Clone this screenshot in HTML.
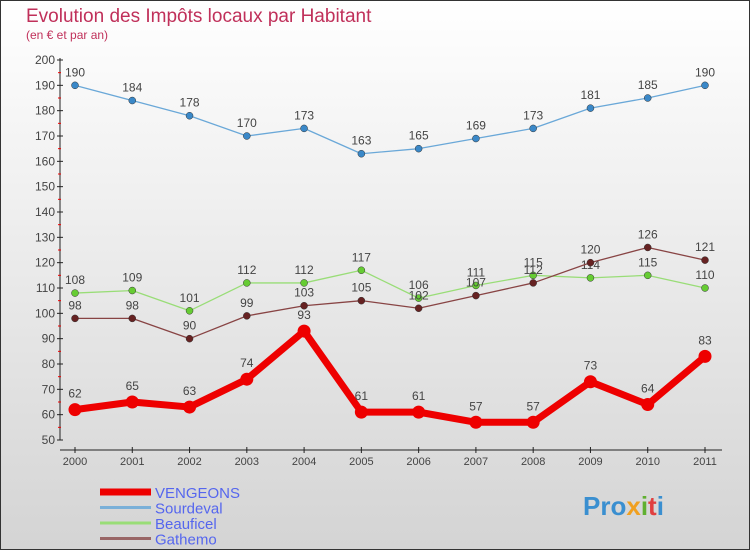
<!DOCTYPE html>
<html><head><meta charset="utf-8"><style>
html,body{margin:0;padding:0}
body{width:750px;height:550px;overflow:hidden;font-family:"Liberation Sans",sans-serif}
</style></head><body>
<svg id="c" width="750" height="550" xmlns="http://www.w3.org/2000/svg">
<defs><linearGradient id="bg" x1="0" y1="0" x2="0" y2="1"><stop offset="0" stop-color="#ffffff"/><stop offset="1" stop-color="#d4d4d4"/></linearGradient></defs>
<rect x="0.5" y="0.5" width="749" height="549" fill="url(#bg)" stroke="#333"/>
<text x="26" y="22" font-size="19" fill="#c0305a">Evolution des Impôts locaux par Habitant</text>
<text x="26" y="39" font-size="12" fill="#c0305a">(en € et par an)</text>
<g id="axes"></g><g id="series"></g><g id="legend"></g>
<text x="583" y="515" font-size="26" font-weight="bold" fill="#3a8fd0">Pro<tspan fill="#f0a020">x</tspan><tspan fill="#60b030">i</tspan><tspan fill="#e04040">t</tspan>i</text>
</svg>
<script>
const years=[2000,2001,2002,2003,2004,2005,2006,2007,2008,2009,2010,2011];
const vengeons=[62,65,63,74,93,61,61,57,57,73,64,83];
const sourdeval=[190,184,178,170,173,163,165,169,173,181,185,190];
const beauficel=[108,109,101,112,112,117,106,111,115,114,115,110];
const gathemo=[98,98,90,99,103,105,102,107,112,120,126,121];
const yTicks=[50,60,70,80,90,100,110,120,130,140,150,160,170,180,190,200];
const NS="http://www.w3.org/2000/svg";
const xS=i=>75+i*(630/11);
const yS=v=>440-(v-50)*(380/150);
function mk(tag,attrs,parent){const e=document.createElementNS(NS,tag);for(const k in attrs)e.setAttribute(k,attrs[k]);parent.appendChild(e);return e;}
const ax=document.getElementById('axes');
const yl=mk('line',{x1:60,y1:58,x2:60,y2:440,stroke:'#222'},ax);


const xl=mk('line',{x1:60,y1:450,x2:722,y2:450,stroke:'#222'},ax);


yTicks.forEach(v=>{const y=yS(v);
 mk('line',{x1:57,y1:y,x2:63,y2:y,stroke:'#222'},ax);
 if(v<200)mk('line',{x1:58,y1:yS(v+5),x2:61,y2:yS(v+5),stroke:'#e00'},ax);
 const t=mk('text',{x:55,y:y+4,'font-size':12,fill:'#444','text-anchor':'end'},ax);t.textContent=v;
 
 
});
years.forEach((yr,i)=>{const x=xS(i);
 mk('line',{x1:x,y1:447,x2:x,y2:453,stroke:'#222'},ax);
 const t=mk('text',{x:x,y:465,'font-size':11,fill:'#444','text-anchor':'middle'},ax);t.textContent=yr;
 
 
});
const sg=document.getElementById('series');
function series(name,vals,col,dot,w,r,fs){
 const g=mk('g',{},sg);
 
 
 const p=mk('polyline',{points:vals.map((v,i)=>xS(i)+','+yS(v)).join(' '),fill:'none',stroke:col,'stroke-width':w,'stroke-linejoin':'round'},g);
 
 
 vals.forEach((v,i)=>{
  const c=mk('circle',{cx:xS(i),cy:yS(v),r:r,fill:dot,stroke:'#333','stroke-width':w>3?0:0.5},g);
  
  
  const t=mk('text',{x:xS(i),y:yS(v)-(w>3?12:9),'font-size':fs,fill:'#444','text-anchor':'middle'},g);t.textContent=v;
  
  
 });
}
series('sourdeval',sourdeval,'#6aa8d8','#3a88c8',1.3,3.5,12);
series('beauficel',beauficel,'#99dd77','#66cc33',1.3,3.5,12);
series('gathemo',gathemo,'#884444','#662222',1.3,3.5,12);
series('vengeons',vengeons,'#ee0000','#ee0000',7,6.5,12);
const lg=document.getElementById('legend');
[['VENGEONS','#ee0000',7],['Sourdeval','#7ab0d8',3],['Beauficel','#99dd77',3],['Gathemo','#996666',3]].forEach((d,i)=>{
 const y=492+i*15.5;
 const g=mk('g',{},lg);
 
 
 mk('line',{x1:100,y1:y,x2:151,y2:y,stroke:d[1],'stroke-width':d[2]},g);
 const t=mk('text',{x:155,y:y+6,'font-size':15,fill:'#5566ee'},g);t.textContent=d[0];
});
</script>
</body></html>
